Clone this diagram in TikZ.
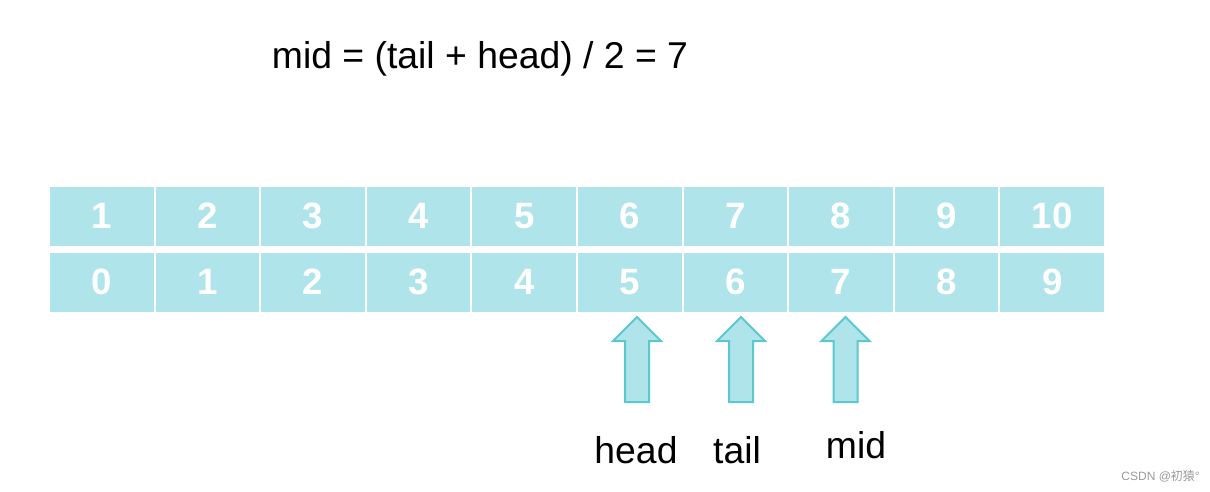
\documentclass[tikz,border=0pt]{standalone}
\usepackage{fontspec}
\setmainfont{Liberation Sans}
\newfontfamily\cjk{Noto Sans CJK SC}
\definecolor{cellfill}{HTML}{AEE4EA}
\definecolor{arrowline}{HTML}{5BC8D0}
\definecolor{wmgrey}{HTML}{9A9A9A}
\begin{document}
\begin{tikzpicture}[x=0.75pt,y=-0.75pt,
  cell/.style={fill=cellfill,draw=none,minimum width=103.6*0.75pt,minimum height=59*0.75pt,inner sep=0pt,
    text=white,font=\fontsize{27.5}{27.5}\selectfont\bfseries},
  lbl/.style={anchor=base,inner sep=0pt,font=\fontsize{28}{28}\selectfont},
  uparrow/.style={fill=cellfill,draw=arrowline,line width=1.5pt,line join=miter}]
\useasboundingbox (0,0) rectangle (1210,492);
\fill[white] (0,0) rectangle (1210,492);
\node[lbl] (formula) at (480,69) {mid = (tail + head) / 2 = 7};
\foreach \i [evaluate=\i as \xc using 50+\i*105.6+51.8, evaluate=\i as \top using int(\i+1)] in {0,...,9} {
  \node[cell] (a\i) at (\xc,216) {\top};
  \node[cell] (b\i) at (\xc,282) {\i};
}
\foreach \cx/\nm in {637/head,741/tail,845.5/mid} {
  \draw[uparrow] (\cx,317) -- (\cx+24,341) -- (\cx+12,341) -- (\cx+12,402) -- (\cx-12,402) -- (\cx-12,341) -- (\cx-24,341) -- cycle;
}
\node[lbl] (head) at (636,463) {head};
\node[lbl] (tail) at (737,463) {tail};
\node[lbl] (mid) at (856,458) {mid};
\node[anchor=base east,inner sep=0pt,text=wmgrey,font=\fontsize{9}{9}\selectfont] (wm) at (1200,480) {CSDN @{\cjk 初猿}°};
\end{tikzpicture}
\end{document}
